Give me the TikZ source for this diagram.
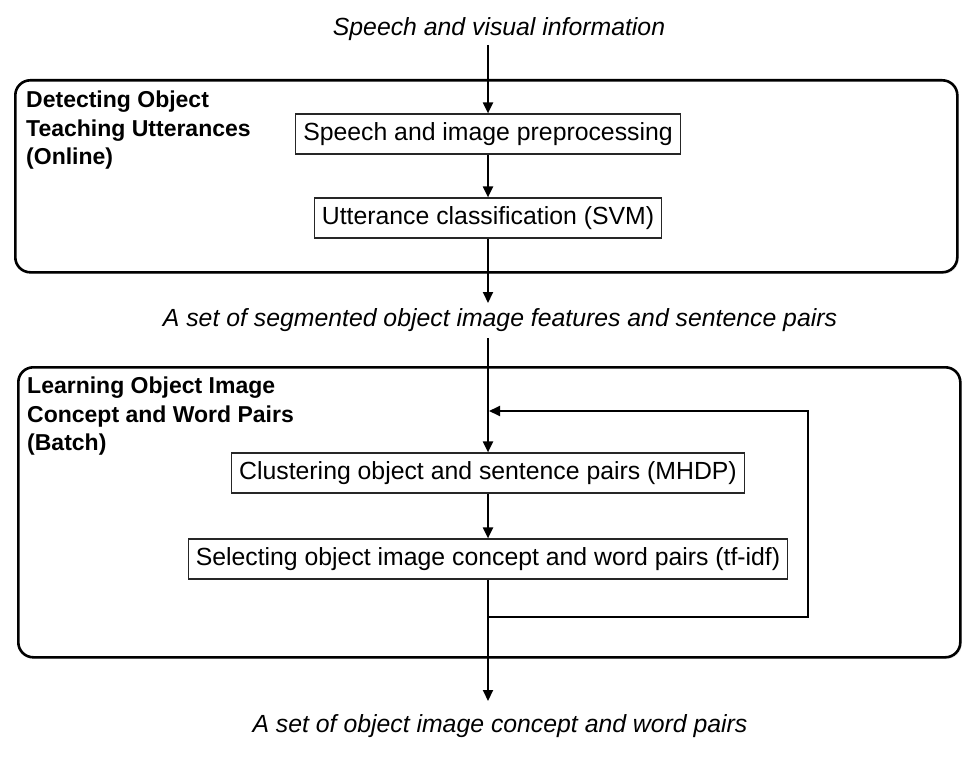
\documentclass[tikz,border=0pt]{standalone}
\usepackage{fontspec}
\setmainfont{Liberation Sans}
\usetikzlibrary{arrows.meta,shadows}
\begin{document}
\begin{tikzpicture}[x=1pt,y=-1pt,
  every node/.style={font=\fontsize{24.8}{28}\selectfont},
  stepbox/.style={draw=black!85,line width=1.2pt,minimum height=40pt,inner xsep=7.5pt,inner ysep=0pt},
  flowtext/.style={font=\fontsize{24.8}{28}\selectfont\itshape,inner sep=0pt},
  group/.style={draw=black,line width=2.6pt,rounded corners=15pt,minimum width=#1,
    anchor=north west,inner sep=0pt,
    drop shadow={opacity=0.2,shadow xshift=1.5pt,shadow yshift=-1.5pt},fill=white},
  grouplabel/.style={font=\fontsize{23}{28.5}\selectfont\bfseries,align=left,anchor=north west,inner sep=0pt},
  arr/.style={line width=2pt,-{Triangle[length=11pt,width=10pt]}},
  ln/.style={line width=2pt}]
\useasboundingbox (0,0) rectangle (977,757);
\fill[white] (0,0) rectangle (977,757);

% groups
\node[group=942pt,minimum height=192pt] (g1) at (14,79) {};
\node[group=942pt,minimum height=290pt] (g2) at (17,366) {};
\node[grouplabel] (l1) at (26,91) {Detecting Object\\Teaching Utterances\\(Online)};
\node[grouplabel] (l2) at (27,377) {Learning Object Image\\Concept and Word Pairs\\(Batch)};

% texts
\node[flowtext] (t0) at (499,29) {Speech and visual information};
\node[flowtext] (t1) at (500,320) {A set of segmented object image features and sentence pairs};
\node[flowtext] (t2) at (500,726) {A set of object image concept and word pairs};

% steps
\node[stepbox] (a) at (488,134) {Speech and image preprocessing};
\node[stepbox] (b) at (488,218) {Utterance classification (SVM)};
\node[stepbox] (c) at (488,473) {Clustering object and sentence pairs (MHDP)};
\node[stepbox] (d) at (488,559) {Selecting object image concept and word pairs (tf-idf)};

% connectors
\coordinate (s0) at (488,45);
\coordinate (e1) at (488,303);
\coordinate (s1) at (488,338);
\coordinate (e2) at (488,701);
\coordinate (lj) at (488,617);
\coordinate (lr) at (808,617);
\coordinate (lu) at (808,411);
\coordinate (lt) at (489,411);

\draw[arr] (s0) -- (a);
\draw[arr] (a) -- (b);
\draw[arr] (b) -- (e1);
\draw[arr] (s1) -- (c);
\draw[arr] (c) -- (d);
\draw[arr] (d) -- (e2);
\draw[ln,arr] (lj) -- (lr) -- (lu) -- (lt);
\end{tikzpicture}
\end{document}
